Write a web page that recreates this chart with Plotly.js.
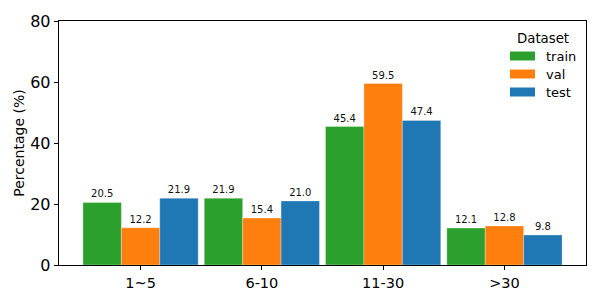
<!DOCTYPE html>
<html>
<head>
<meta charset="utf-8">
<script src="https://cdn.plot.ly/plotly-3.0.1.min.js"></script>
<style>html,body{margin:0;padding:0;background:#fff;}#chart{width:600px;height:300px;}</style>
</head>
<body>
<div id="chart"></div>
<script>
const categories = ["1~5", "6-10", "11-30", ">30"];
const seriesNames = ["train", "val", "test"];
const trainValues = [20.5, 21.9, 45.4, 12.1];
const valValues = [12.2, 15.4, 59.5, 12.8];
const testValues = [21.9, 21.0, 47.4, 9.8];
const colors = ["#2ca02c", "#ff7f0e", "#1f77b4"];
const yTicks = [0, 20, 40, 60, 80];
const legendTitle = "Dataset";

const font = "DejaVu Sans, sans-serif";
const allValues = [trainValues, valValues, testValues];
const traces = allValues.map((vals, i) => ({
  type: "bar",
  name: seriesNames[i],
  x: categories,
  y: vals,
  marker: {color: colors[i], line: {color: "rgba(255,255,255,0.5)", width: 0.6}},
  text: vals.map(v => v.toFixed(1)),
  textposition: "outside",
  textfont: {family: font, size: 10, color: "#111"},
  cliponaxis: false,
  showlegend: false,
  hoverinfo: "x+y+name"
}));

// legend drawn in paper coordinates (plot area 59..586 x 21..265 px)
const L = 59, R = 586, T = 21, B = 265;
const px = v => (v - L) / (R - L);
const py = v => (B - v) / (B - T);
const shapes = [];
const annotations = [{
  xref: "paper", yref: "paper", x: px(543), y: py(38), xanchor: "center", yanchor: "middle",
  text: legendTitle, showarrow: false, font: {family: font, size: 13.3, color: "#000"}
}];
seriesNames.forEach((name, i) => {
  const cy = 56 + i * 18;
  shapes.push({type: "rect", xref: "paper", yref: "paper",
    x0: px(510), x1: px(535), y0: py(cy + 4.5), y1: py(cy - 4.5),
    fillcolor: colors[i], line: {width: 0}});
  annotations.push({xref: "paper", yref: "paper", x: px(544), y: py(cy), xanchor: "left", yanchor: "middle",
    text: name, showarrow: false, font: {family: font, size: 13, color: "#000"}});
});

const layout = {
  width: 600, height: 300,
  margin: {l: 59, r: 14, t: 21, b: 35},
  paper_bgcolor: "#fff", plot_bgcolor: "#fff",
  barmode: "group", bargap: 0.05, bargroupgap: 0,
  font: {family: font, color: "#000"},
  xaxis: {
    type: "category",
    range: [-0.6725, 3.6725],
    showline: true, linecolor: "#000", linewidth: 1.3, mirror: true,
    ticks: "outside", ticklen: 4, tickwidth: 1, tickcolor: "#000",
    tickfont: {family: font, size: 14.5, color: "#000"},
    showgrid: false, zeroline: false
  },
  yaxis: {
    range: [0, 80],
    tickvals: yTicks, ticktext: yTicks.map(String),
    showline: true, linecolor: "#000", linewidth: 1.3, mirror: true,
    ticks: "outside", ticklen: 4, tickwidth: 1, tickcolor: "#000",
    tickfont: {family: font, size: 16, color: "#000"},
    showgrid: false, zeroline: false,
    title: {text: "Percentage (%)", font: {family: font, size: 14, color: "#000"}, standoff: 2}
  },
  showlegend: false,
  shapes: shapes,
  annotations: annotations
};

Plotly.newPlot("chart", traces, layout, {displayModeBar: false, staticPlot: true});
</script>
</body>
</html>
